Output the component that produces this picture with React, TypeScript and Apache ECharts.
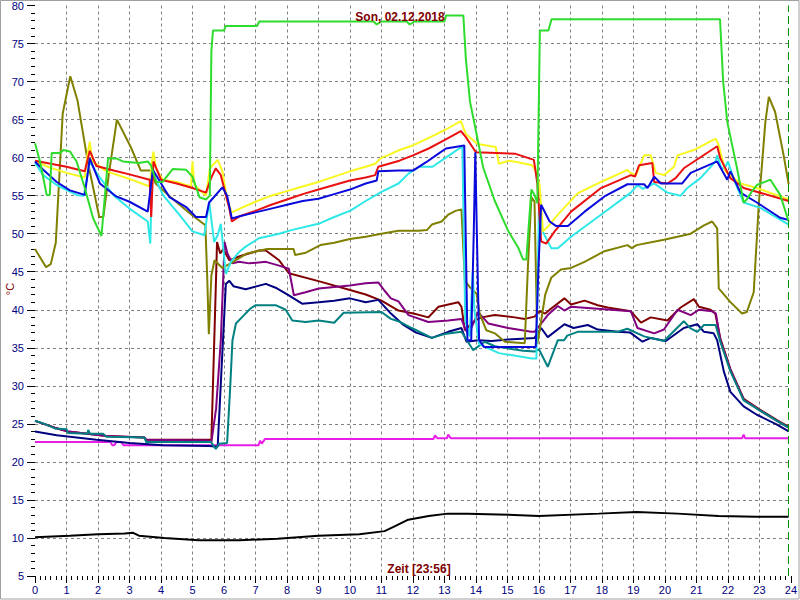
import React, { useEffect, useRef } from 'react';
import * as echarts from 'echarts';

type P = [number, number];

const TITLE = 'Son, 02.12.2018';
const X_NAME = 'Zeit [23:56]';
const Y_NAME = '°C';
const NOW_HOUR = 23.933;
const Y_MIN = 5;
const Y_MAX = 80;
const Y_STEP = 5;
const X_MIN = 0;
const X_MAX = 24;
const X_STEP = 1;

const green: P[] = [[0,61.9],[0.16,59.5],[0.37,55.1],[0.47,55.1],[0.53,60.6],[0.8,60.6],[0.9,61.0],[1.11,60.8],[1.32,59.5],[1.58,56.0],[1.84,52.1],[2.11,49.7],[2.32,59.9],[2.58,59.9],[2.79,59.5],[3.3,59.3],[3.58,59.5],[3.68,59.0],[3.85,56.8],[4.05,56.8],[4.37,58.5],[4.8,58.4],[5.0,57.5],[5.22,54.8],[5.43,54.5],[5.55,55],[5.6,74],[5.65,76.7],[6.0,76.7],[6.05,77.3],[7.05,77.3],[7.12,77.9],[10.75,77.9],[10.85,77.5],[11.0,77.9],[11.8,77.9],[11.9,77.5],[12.05,77.9],[13.0,77.9],[13.05,78.7],[13.6,78.7],[13.68,73],[13.81,67.4],[14.02,63.1],[14.23,58.7],[14.6,54.3],[15.02,50.4],[15.34,48.2],[15.5,46.6],[15.6,46.6],[15.76,55.8],[15.86,55.1],[15.95,54],[16.03,76.7],[16.3,76.7],[16.4,78.2],[21.75,78.2],[21.85,70],[21.98,64.7],[22.29,58.6],[22.5,54.1],[22.6,54.5],[22.75,55.5],[22.92,56.4],[23.35,57.1],[23.66,55.1],[23.93,51.6]];

const olive: P[] = [[0,48.0],[0.35,45.6],[0.5,46],[0.66,48.8],[0.88,65.8],[1.12,70.7],[1.35,67.5],[1.67,59.6],[2.04,52.2],[2.17,52.2],[2.35,58],[2.6,65.0],[3.04,61.4],[3.36,58.3],[3.67,58.3],[3.83,56.6],[4.31,54.8],[4.94,52.6],[5.41,51.1],[5.47,44],[5.52,36.8],[5.6,44.5],[5.7,46.5],[5.95,45.5],[6.21,46.1],[6.73,47.4],[7.37,48.0],[8.21,48.0],[8.26,47.2],[8.6,47.5],[9.06,48.5],[9.5,48.8],[10.0,49.3],[10.5,49.6],[11.0,50.0],[11.54,50.4],[12.17,50.4],[12.45,50.5],[12.6,51.2],[12.91,51.6],[13.12,52.5],[13.35,53.0],[13.54,53.2],[13.6,48],[13.65,43.8],[13.8,43.0],[14.02,42.1],[14.12,39.5],[14.33,37.3],[14.6,36.9],[14.92,35.8],[15.55,35.6],[15.65,45.6],[15.76,54.8],[15.86,54.2],[15.95,35.5],[16.05,38],[16.2,42],[16.39,44.2],[16.7,45.3],[17.02,45.5],[17.45,46.3],[18.08,47.7],[18.81,48.5],[18.95,48.1],[19.1,48.5],[19.97,49.2],[20.4,49.6],[20.82,50.0],[21.24,51.1],[21.5,51.6],[21.66,50.7],[21.71,42.8],[22.08,41.0],[22.45,39.5],[22.6,39.7],[22.82,42.3],[22.98,53.8],[23.19,64.7],[23.3,68.0],[23.5,66],[23.77,60.3],[23.93,56.5]];

const yellow: P[] = [[0,59.5],[0.47,58.7],[1.0,58.0],[1.58,57.4],[1.65,60],[1.74,62.1],[1.82,59.5],[2.27,58.2],[3.0,57.2],[3.64,56.2],[3.7,59],[3.76,60.8],[3.85,58.5],[4.06,57.1],[4.5,56.8],[4.95,56.2],[5.0,59.5],[5.06,56.4],[5.43,55.0],[5.55,58.6],[5.8,59.7],[5.95,58.2],[6.11,54.3],[6.25,52.8],[6.5,53.3],[7.0,54.2],[7.5,55.0],[8.0,55.6],[8.5,56.2],[9.0,56.8],[9.5,57.5],[10.0,58.2],[10.5,58.8],[10.8,59.2],[11.0,60.0],[11.2,60.3],[11.57,61.0],[12.0,61.6],[12.5,62.6],[13.0,63.6],[13.52,64.8],[13.68,63.1],[14.05,61.8],[14.63,61.4],[14.73,59.2],[15.05,59.6],[15.34,59.4],[15.78,59.0],[15.9,58.3],[16.02,56.4],[16.13,50.3],[16.34,51.2],[16.6,52.5],[17.23,55.3],[17.97,56.8],[18.81,58.4],[18.9,58.0],[19.08,57.7],[19.34,60.3],[19.55,60.3],[19.71,58.0],[19.97,57.7],[20.29,58.8],[20.4,60.3],[20.92,61.0],[21.61,62.5],[21.71,61.6],[21.92,58.2],[22.4,56.6],[22.92,56.0],[23.93,54.5]];

const red: P[] = [[0,59.6],[0.5,59.2],[1.0,58.8],[1.58,58.2],[1.74,60.9],[1.95,58.9],[2.5,58.3],[3.0,57.8],[3.64,57.1],[3.69,52.2],[3.76,59.5],[4.0,57.1],[4.5,56.6],[5.0,56.0],[5.43,55.4],[5.59,57.3],[5.74,58.6],[5.9,57.7],[6.06,55.1],[6.17,53.3],[6.25,51.6],[6.5,52.3],[7.0,53.0],[7.5,53.8],[8.0,54.5],[8.5,55.2],[9.0,55.8],[9.5,56.4],[10.0,57.0],[10.5,57.4],[10.8,57.7],[10.9,58.8],[11.57,59.6],[12.0,60.3],[12.5,61.2],[13.0,62.3],[13.52,63.5],[13.68,62.7],[14.0,60.7],[15.26,60.5],[15.84,59.7],[15.95,56.6],[16.07,49.0],[16.23,48.7],[16.5,50.3],[17.02,52.9],[17.97,56.0],[18.92,57.7],[19.05,57.5],[19.18,59.0],[19.6,59.3],[19.66,56.8],[20.08,56.6],[20.34,57.3],[20.6,58.6],[21.66,61.5],[21.76,59.9],[22.08,57.3],[22.5,56.0],[23.93,54.3]];

const blue: P[] = [[0,59.5],[0.26,58.4],[0.69,56.8],[1.11,55.7],[1.58,55.1],[1.74,59.9],[2.06,56.6],[2.58,54.9],[3.0,54.2],[3.58,52.9],[3.74,58.4],[4.27,54.8],[4.8,53.5],[5.11,52.2],[5.43,52.2],[5.53,54.1],[5.95,56.1],[6.1,55.0],[6.25,52.0],[6.5,52.3],[7.0,52.8],[7.5,53.3],[8.0,53.8],[8.5,54.3],[9.0,54.6],[9.5,55.2],[10.0,55.8],[10.5,56.6],[10.85,57.0],[10.9,58.2],[11.54,58.3],[12.0,58.3],[12.42,59.4],[12.8,60.5],[13.05,61.2],[13.63,61.6],[13.73,36.0],[13.85,36.0],[13.93,50],[13.98,60.7],[14.03,50],[14.1,36.0],[14.26,35.1],[15.9,35.1],[15.98,45],[16.07,53.8],[16.34,51.6],[16.55,51.0],[16.92,51.0],[17.45,52.9],[18.08,54.9],[18.81,56.5],[19.34,56.5],[19.45,56.0],[19.66,57.5],[19.87,56.6],[20.55,56.6],[20.82,58.0],[21.66,59.5],[21.98,57.1],[22.08,58.2],[22.4,55.4],[22.92,54.1],[23.66,52.1],[23.93,51.8]];

const cyan: P[] = [[0,59.3],[0.26,57.7],[0.69,56.4],[1.32,55.1],[1.55,55.0],[1.74,59.5],[2.0,57.7],[2.48,55.1],[3.0,53.3],[3.58,51.6],[3.66,48.7],[3.72,58.2],[4.06,55.1],[4.58,52.5],[5.0,50.3],[5.38,49.8],[5.53,54.2],[5.69,48.9],[5.8,49.8],[5.9,51.3],[6.06,44.7],[6.22,46.3],[6.48,47.6],[6.69,48.3],[7.11,49.4],[7.75,50.0],[8.17,50.5],[9.0,51.3],[9.5,52.2],[10.0,53.0],[10.5,54.3],[11.0,55.5],[11.54,56.6],[11.86,57.9],[12.2,58.8],[12.62,58.8],[13.15,60.3],[13.57,61.5],[13.66,38.6],[13.8,36.5],[13.9,45],[13.95,40],[14.1,35.5],[14.3,35.1],[14.73,34.3],[15.78,33.6],[15.92,33.6],[16.0,53.5],[16.1,50.5],[16.18,49.8],[16.39,48.1],[16.6,48.1],[17.02,49.6],[17.97,52.5],[18.92,55.4],[19.13,56.4],[19.3,55.9],[19.66,56.6],[20.08,55.4],[20.5,55.0],[20.71,56.0],[21.13,57.3],[21.61,59.5],[21.66,60.3],[21.8,58.5],[21.92,58.8],[22.0,59.5],[22.2,57],[22.5,54.1],[23.03,53.4],[23.93,51.2]];

const maroon: P[] = [[0,25.4],[0.63,24.5],[1.05,24.0],[2.27,23.4],[3.48,23.2],[3.53,22.9],[5.6,22.9],[5.72,40],[5.78,48.9],[5.88,47.4],[5.98,48.0],[6.17,46.5],[6.48,47.0],[7.11,47.8],[7.33,47.8],[7.75,46.5],[8.06,44.8],[9.06,43.7],[10.0,42.6],[10.5,42.0],[11.0,41.2],[11.54,39.9],[12.02,39.5],[12.49,39.0],[12.81,40.4],[13.44,41.0],[13.54,40.4],[13.65,37.3],[13.97,38.6],[14.18,39.0],[14.6,39.3],[15.23,39.0],[15.55,38.8],[15.86,39.1],[16.02,39.8],[16.2,39.5],[16.4,40.2],[16.81,41.5],[17.02,40.7],[17.45,41.2],[17.87,40.6],[18.18,40.3],[18.92,39.8],[19.24,38.3],[19.55,39.0],[20.08,38.6],[20.5,40.3],[20.92,41.4],[21.08,40.4],[21.45,40.0],[21.6,39.5],[21.76,36.2],[22.08,32.2],[22.5,28.3],[23.0,26.9],[23.56,25.5],[23.93,24.6]];

const purple: P[] = [[0,25.4],[0.63,24.5],[1.05,24.0],[2.27,23.4],[3.48,23.2],[3.53,22.9],[5.5,22.8],[5.6,22.6],[5.75,27],[5.9,36],[6.02,48.9],[6.11,47.4],[6.27,46.1],[6.48,46.3],[6.8,46.1],[7.33,46.3],[7.75,45.8],[8.06,45.4],[8.22,41.9],[8.59,42.3],[9.01,42.8],[9.5,43.0],[10.0,43.2],[10.5,43.5],[10.9,43.6],[11.1,42.5],[11.3,41.5],[11.54,41.1],[11.86,39.3],[12.49,38.4],[13.12,38.6],[13.54,38.8],[13.65,37.6],[13.76,36.7],[14.07,39.7],[14.39,38.2],[15.02,37.6],[15.76,37.1],[15.86,37.1],[16.02,37.9],[16.28,39.3],[16.6,40.5],[16.81,39.9],[17.02,40.4],[18.92,39.8],[19.13,37.6],[19.66,36.9],[19.97,37.4],[20.4,40.0],[20.82,39.3],[21.08,40.0],[21.5,39.8],[21.62,39.5],[21.76,36.0],[22.08,32.1],[22.5,28.2],[23.0,26.8],[23.56,25.4],[23.93,24.5]];

const navy: P[] = [[0,24.0],[0.69,23.5],[1.95,22.9],[3.0,22.5],[4.06,22.2],[5.53,22.1],[5.8,22.0],[5.92,32],[6.06,43.4],[6.17,43.8],[6.3,43.1],[6.69,42.7],[7.33,43.4],[7.64,42.9],[8.06,41.9],[8.48,40.8],[9.01,41.0],[9.5,41.2],[10.0,41.5],[10.5,41.0],[10.9,41.3],[11.3,39.5],[11.7,38.0],[12.1,37.0],[12.6,36.3],[13.12,37.1],[13.54,37.6],[13.7,35.8],[14.07,36.0],[14.5,35.9],[15.02,36.1],[15.86,36.3],[16.07,37.6],[16.28,36.4],[16.81,38.1],[17.1,37.6],[17.55,38.0],[17.87,37.4],[18.5,37.1],[18.9,37.0],[19.29,35.8],[19.55,36.3],[20.03,35.9],[20.6,37.6],[21.03,38.1],[21.24,37.1],[21.55,36.9],[21.66,36.0],[21.87,31.9],[22.08,29.2],[22.5,27.3],[22.92,26.2],[23.56,24.9],[23.93,24.0]];

const teal: P[] = [[0,25.4],[0.3,25.0],[0.63,24.4],[1.0,24.3],[1.05,23.8],[1.67,23.7],[1.69,24.2],[1.75,23.7],[2.16,23.7],[2.27,23.3],[3.48,23.2],[3.53,22.6],[5.59,22.6],[5.74,21.7],[5.85,22.4],[6.1,22.5],[6.2,30],[6.27,36],[6.38,38.2],[6.59,39.1],[6.85,40.2],[7.01,40.6],[7.64,40.6],[7.96,40.0],[8.17,38.6],[8.59,38.4],[9.01,38.6],[9.5,38.3],[9.8,39.6],[11.0,39.7],[11.3,38.8],[11.54,38.5],[11.96,37.6],[12.6,36.3],[13.0,36.8],[13.54,37.1],[13.91,34.7],[14.28,35.8],[14.6,35.2],[15.5,34.6],[15.86,34.5],[16.0,34.8],[16.28,32.5],[16.6,36.0],[16.8,36.0],[16.9,36.6],[17.23,37.1],[18.5,37.1],[18.81,37.5],[19.34,36.5],[19.97,35.9],[20.6,38.5],[20.8,37.6],[21.03,37.1],[21.24,38.0],[21.61,38.0],[21.76,35.8],[22.08,31.9],[22.5,28.1],[23.0,26.8],[23.56,25.4],[23.93,24.5]];

const magenta: P[] = [[0,22.6],[2.4,22.6],[2.45,22.2],[2.52,22.2],[2.58,22.6],[2.75,22.6],[2.8,22.2],[7.1,22.2],[7.15,22.8],[7.2,22.4],[7.3,23.0],[12.65,23.0],[12.7,23.5],[12.78,23.1],[13.08,23.1],[13.12,23.6],[13.2,23.1],[22.45,23.1],[22.5,23.6],[22.55,23.1],[23.93,23.1]];

const black: P[] = [[0,10.1],[1.1,10.3],[2.0,10.5],[2.85,10.6],[3.1,10.7],[3.3,10.3],[4.1,10.0],[5.2,9.7],[6.5,9.7],[7.7,9.9],[9.0,10.3],[10.3,10.5],[11.1,10.9],[11.4,11.5],[11.85,12.4],[12.5,12.9],[13.1,13.2],[13.75,13.2],[14.7,13.1],[16.0,12.9],[17.9,13.2],[19.1,13.4],[20.4,13.2],[21.7,12.9],[22.9,12.8],[23.93,12.8]];

const SERIES: { name: string; color: string; data: P[] }[] = [
  { name: 'black', color: '#000000', data: black },
  { name: 'magenta', color: '#e81ee8', data: magenta },
  { name: 'maroon', color: '#800000', data: maroon },
  { name: 'purple', color: '#800080', data: purple },
  { name: 'navy', color: '#000080', data: navy },
  { name: 'teal', color: '#008080', data: teal },
  { name: 'olive', color: '#808000', data: olive },
  { name: 'cyan', color: '#2ee8e8', data: cyan },
  { name: 'yellow', color: '#f8f820', data: yellow },
  { name: 'red', color: '#e81010', data: red },
  { name: 'blue', color: '#0a0adc', data: blue },
  { name: 'green', color: '#2edc2e', data: green },
];

export default function App() {
  const ref = useRef<HTMLDivElement>(null);
  useEffect(() => {
    if (!ref.current) return;
    const chart = echarts.init(ref.current, null, { renderer: 'svg' });
    const series: any[] = SERIES.map((s) => ({
      name: s.name,
      type: 'line',
      data: s.data,
      showSymbol: false,
      symbol: 'none',
      silent: true,
      lineStyle: { color: s.color, width: 2 },
      itemStyle: { color: s.color },
    }));
    series[series.length - 1].markLine = {
      silent: true,
      symbol: 'none',
      label: { show: false },
      lineStyle: { color: '#009000', type: [8, 4], width: 1 },
      data: [{ xAxis: NOW_HOUR }],
    };
    chart.setOption({
      animation: false,
      backgroundColor: '#ffffff',
      grid: { left: 35, right: 6, top: 4, bottom: 24, containLabel: false },
      xAxis: {
        type: 'value',
        min: X_MIN,
        max: X_MAX,
        interval: X_STEP,
        axisLine: { show: false },
        axisTick: { show: true, length: 7, lineStyle: { color: '#000' } },
        minorTick: { show: true, splitNumber: 6, length: 4, lineStyle: { color: '#000' } },
        axisLabel: { color: '#000080', fontSize: 11, fontFamily: 'Liberation Sans, Arial, sans-serif', margin: 8 },
        splitLine: { show: true, showMinLine: false, showMaxLine: false, lineStyle: { color: '#808080', type: [3, 3], width: 1 } },
      },
      yAxis: {
        type: 'value',
        min: Y_MIN,
        max: Y_MAX,
        interval: Y_STEP,
        axisLine: { show: false },
        axisTick: { show: true, length: 8, lineStyle: { color: '#000' } },
        minorTick: { show: true, splitNumber: 5, length: 4, lineStyle: { color: '#000' } },
        axisLabel: { color: '#000080', fontSize: 11, fontFamily: 'Liberation Sans, Arial, sans-serif', margin: 11 },
        splitLine: { show: true, showMinLine: false, showMaxLine: false, lineStyle: { color: '#808080', type: [3, 3], width: 1 } },
      },
      graphic: [
        { type: 'rect', shape: { x: 0.5, y: 0.5, width: 798.5, height: 598.5 }, style: { fill: 'none', stroke: '#a0a0a0', lineWidth: 1 }, silent: true, z: 100 },
        { type: 'text', x: 400, y: 17, style: { text: TITLE, fill: '#800000', font: 'bold 12px "Liberation Sans", Arial, sans-serif', textAlign: 'center', textVerticalAlign: 'middle' }, z: 100 },
        { type: 'text', x: 419, y: 569, style: { text: X_NAME, fill: '#800000', font: 'bold 12px "Liberation Sans", Arial, sans-serif', textAlign: 'center', textVerticalAlign: 'middle' }, z: 100 },
        { type: 'text', x: 10, y: 289, rotation: Math.PI / 2, style: { text: Y_NAME, fill: '#800000', font: '11px "Liberation Sans", Arial, sans-serif', textAlign: 'center', textVerticalAlign: 'middle' }, z: 100 },
      ],
      series,
    });
    return () => chart.dispose();
  }, []);
  return (
    <div
      ref={ref}
      style={{ position: 'fixed', left: 0, top: 0, width: 800, height: 600, background: '#fff' }}
    />
  );
}
